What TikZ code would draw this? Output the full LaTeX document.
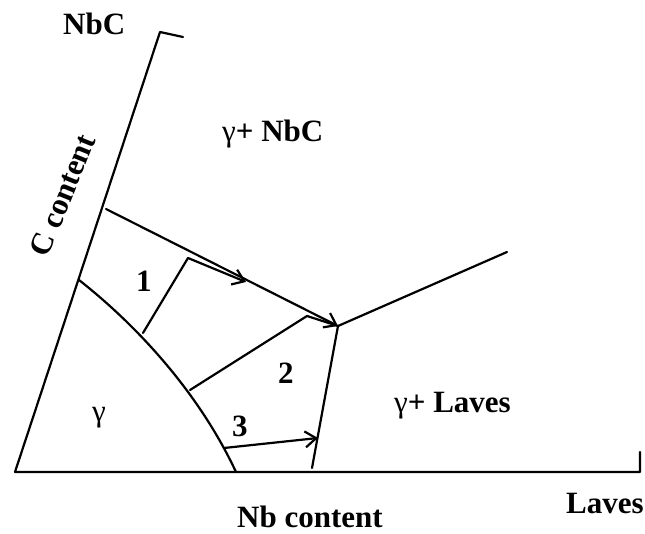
\documentclass[tikz,border=0pt]{standalone}
\usepackage{fontspec}
\setmainfont{Liberation Serif}
\usetikzlibrary{arrows.meta}
\tikzset{
  ln/.style={line width=2.2pt, line cap=round, line join=round},
  arr/.style={ln, -{Straight Barb[length=11pt,width=16pt,line width=2.2pt]}},
  lbl/.style={font=\fontsize{31}{33}\selectfont\bfseries, inner sep=0pt, anchor=base west},
  glbl/.style={font=\fontsize{31}{33}\selectfont, inner sep=0pt, anchor=base west}
}
\begin{document}
\begin{tikzpicture}[x=1pt,y=-1pt]
\useasboundingbox (0,0) rectangle (645,534);
% axis points
\coordinate (O) at (15,472);
\coordinate (Ctop) at (160,32);
\coordinate (Ctick) at (183,37);
\coordinate (Bend) at (640,472);
\coordinate (Btick) at (640,452);
% region points
\coordinate (A0) at (106,209);
\coordinate (T) at (338,326);
\coordinate (R) at (507,252);
\coordinate (Vb) at (312,468);
\coordinate (K0) at (79,280);
\coordinate (K1) at (143,333);
\coordinate (K2) at (190,390);
\coordinate (K3) at (224,448);
\coordinate (K4) at (236,472);
\coordinate (B1) at (188,258);
\coordinate (B1t) at (246,282);
\coordinate (B2) at (307,316);
\coordinate (B3t) at (318,438);
% axes
\draw[ln] (Btick) -- (Bend) -- (O) -- (Ctop) -- (Ctick);
% boundary curve
\draw[ln] (K0) .. controls (140,328) and (200,395) .. (K4);
% region lines
\draw[arr] (A0) -- (T);
\draw[ln] (T) -- (R);
\draw[ln] (T) -- (Vb);
\draw[ln] (K1) -- (B1);
\draw[arr] (B1) -- (B1t);
\draw[ln] (K2) -- (B2) -- (T);
\draw[arr] (K3) -- (B3t);
% labels
\node[lbl] (nbc) at (63,35) {NbC};
\node[lbl, rotate=68, anchor=base] (cc) at (72,199) {C content};
\node[glbl] (gnbc) at (222,142) {γ\textbf{+ NbC}};
\node[lbl] (one) at (136,292) {1};
\node[lbl] (two) at (278,383) {2};
\node[lbl] (three) at (232,436) {3};
\node[glbl] (gam) at (92,421) {γ};
\node[glbl] (glav) at (394,412) {γ\textbf{+ Laves}};
\node[lbl] (lav) at (566,513) {Laves};
\node[lbl] (nbcont) at (237,527) {Nb content};
\end{tikzpicture}
\end{document}
